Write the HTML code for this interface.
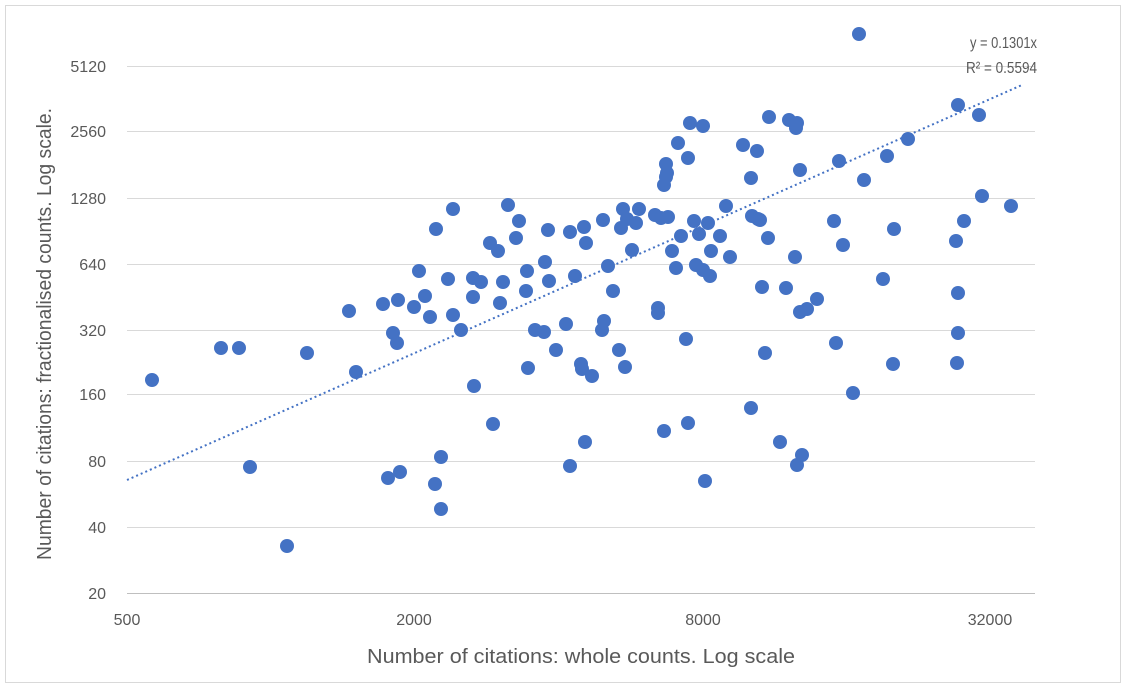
<!DOCTYPE html>
<html><head><meta charset="utf-8"><style>
body{margin:0;background:#fff;}
svg{display:block;font-family:"Liberation Sans",sans-serif;}
</style></head><body>
<svg width="1127" height="688" viewBox="0 0 1127 688">
<rect x="5.5" y="5.5" width="1115" height="677" fill="#fff" stroke="#d9d9d9"/>
<g stroke="#d9d9d9" stroke-width="1">
<line x1="127" x2="1035" y1="66.5" y2="66.5"/>
<line x1="127" x2="1035" y1="131.5" y2="131.5"/>
<line x1="127" x2="1035" y1="198.5" y2="198.5"/>
<line x1="127" x2="1035" y1="264.5" y2="264.5"/>
<line x1="127" x2="1035" y1="330.5" y2="330.5"/>
<line x1="127" x2="1035" y1="394.5" y2="394.5"/>
<line x1="127" x2="1035" y1="461.5" y2="461.5"/>
<line x1="127" x2="1035" y1="527.5" y2="527.5"/>
</g>
<line x1="127" x2="1035" y1="593.5" y2="593.5" stroke="#bfbfbf"/>
<g fill="#595959" font-size="16" text-anchor="end">
<text x="106" y="72">5120</text><text x="106" y="137">2560</text><text x="106" y="204">1280</text>
<text x="106" y="270">640</text><text x="106" y="336">320</text><text x="106" y="400">160</text>
<text x="106" y="467">80</text><text x="106" y="533">40</text><text x="106" y="599">20</text>
</g>
<g fill="#595959" font-size="16" text-anchor="middle">
<text x="127" y="625">500</text><text x="414" y="625">2000</text><text x="703" y="625">8000</text><text x="990" y="625">32000</text>
<text x="581" y="663" font-size="20" textLength="428" lengthAdjust="spacingAndGlyphs">Number of citations: whole counts. Log scale</text>
<text transform="translate(51,334) rotate(-90)" font-size="20" textLength="452" lengthAdjust="spacingAndGlyphs">Number of citations: fractionalised counts. Log scale.</text>
</g>
<g fill="#4472C4">
<circle cx="152" cy="380" r="7"/><circle cx="221" cy="348" r="7"/><circle cx="239" cy="348" r="7"/><circle cx="250" cy="467" r="7"/><circle cx="287" cy="546" r="7"/><circle cx="307" cy="353" r="7"/><circle cx="349" cy="311" r="7"/><circle cx="356" cy="372" r="7"/><circle cx="383" cy="304" r="7"/><circle cx="393" cy="333" r="7"/><circle cx="397" cy="343" r="7"/><circle cx="398" cy="300" r="7"/><circle cx="388" cy="478" r="7"/><circle cx="400" cy="472" r="7"/><circle cx="414" cy="307" r="7"/><circle cx="419" cy="271" r="7"/><circle cx="425" cy="296" r="7"/><circle cx="430" cy="317" r="7"/><circle cx="436" cy="229" r="7"/><circle cx="435" cy="484" r="7"/><circle cx="441" cy="457" r="7"/><circle cx="441" cy="509" r="7"/><circle cx="448" cy="279" r="7"/><circle cx="453" cy="209" r="7"/><circle cx="453" cy="315" r="7"/><circle cx="461" cy="330" r="7"/><circle cx="473" cy="297" r="7"/><circle cx="473" cy="278" r="7"/><circle cx="474" cy="386" r="7"/><circle cx="481" cy="282" r="7"/><circle cx="490" cy="243" r="7"/><circle cx="493" cy="424" r="7"/><circle cx="498" cy="251" r="7"/><circle cx="500" cy="303" r="7"/><circle cx="503" cy="282" r="7"/><circle cx="508" cy="205" r="7"/><circle cx="516" cy="238" r="7"/><circle cx="519" cy="221" r="7"/><circle cx="526" cy="291" r="7"/><circle cx="527" cy="271" r="7"/><circle cx="528" cy="368" r="7"/><circle cx="535" cy="330" r="7"/><circle cx="544" cy="332" r="7"/><circle cx="545" cy="262" r="7"/><circle cx="548" cy="230" r="7"/><circle cx="549" cy="281" r="7"/><circle cx="556" cy="350" r="7"/><circle cx="566" cy="324" r="7"/><circle cx="570" cy="466" r="7"/><circle cx="570" cy="232" r="7"/><circle cx="575" cy="276" r="7"/><circle cx="581" cy="364" r="7"/><circle cx="582" cy="369" r="7"/><circle cx="584" cy="227" r="7"/><circle cx="585" cy="442" r="7"/><circle cx="586" cy="243" r="7"/><circle cx="592" cy="376" r="7"/><circle cx="602" cy="330" r="7"/><circle cx="603" cy="220" r="7"/><circle cx="604" cy="321" r="7"/><circle cx="608" cy="266" r="7"/><circle cx="613" cy="291" r="7"/><circle cx="619" cy="350" r="7"/><circle cx="621" cy="228" r="7"/><circle cx="623" cy="209" r="7"/><circle cx="625" cy="367" r="7"/><circle cx="627" cy="219" r="7"/><circle cx="632" cy="250" r="7"/><circle cx="636" cy="223" r="7"/><circle cx="639" cy="209" r="7"/><circle cx="655" cy="215" r="7"/><circle cx="658" cy="313" r="7"/><circle cx="658" cy="308" r="7"/><circle cx="661" cy="218" r="7"/><circle cx="664" cy="185" r="7"/><circle cx="666" cy="177" r="7"/><circle cx="667" cy="173" r="7"/><circle cx="666" cy="164" r="7"/><circle cx="668" cy="217" r="7"/><circle cx="664" cy="431" r="7"/><circle cx="672" cy="251" r="7"/><circle cx="676" cy="268" r="7"/><circle cx="678" cy="143" r="7"/><circle cx="681" cy="236" r="7"/><circle cx="686" cy="339" r="7"/><circle cx="688" cy="423" r="7"/><circle cx="688" cy="158" r="7"/><circle cx="690" cy="123" r="7"/><circle cx="694" cy="221" r="7"/><circle cx="696" cy="265" r="7"/><circle cx="699" cy="234" r="7"/><circle cx="703" cy="126" r="7"/><circle cx="703" cy="270" r="7"/><circle cx="705" cy="481" r="7"/><circle cx="708" cy="223" r="7"/><circle cx="710" cy="276" r="7"/><circle cx="711" cy="251" r="7"/><circle cx="720" cy="236" r="7"/><circle cx="726" cy="206" r="7"/><circle cx="730" cy="257" r="7"/><circle cx="743" cy="145" r="7"/><circle cx="751" cy="408" r="7"/><circle cx="751" cy="178" r="7"/><circle cx="752" cy="216" r="7"/><circle cx="757" cy="151" r="7"/><circle cx="758" cy="219" r="7"/><circle cx="760" cy="220" r="7"/><circle cx="762" cy="287" r="7"/><circle cx="765" cy="353" r="7"/><circle cx="768" cy="238" r="7"/><circle cx="769" cy="117" r="7"/><circle cx="780" cy="442" r="7"/><circle cx="786" cy="288" r="7"/><circle cx="789" cy="120" r="7"/><circle cx="796" cy="128" r="7"/><circle cx="797" cy="123" r="7"/><circle cx="797" cy="465" r="7"/><circle cx="795" cy="257" r="7"/><circle cx="800" cy="170" r="7"/><circle cx="802" cy="455" r="7"/><circle cx="800" cy="312" r="7"/><circle cx="807" cy="309" r="7"/><circle cx="817" cy="299" r="7"/><circle cx="834" cy="221" r="7"/><circle cx="836" cy="343" r="7"/><circle cx="839" cy="161" r="7"/><circle cx="843" cy="245" r="7"/><circle cx="853" cy="393" r="7"/><circle cx="859" cy="34" r="7"/><circle cx="864" cy="180" r="7"/><circle cx="883" cy="279" r="7"/><circle cx="887" cy="156" r="7"/><circle cx="893" cy="364" r="7"/><circle cx="894" cy="229" r="7"/><circle cx="908" cy="139" r="7"/><circle cx="956" cy="241" r="7"/><circle cx="958" cy="293" r="7"/><circle cx="957" cy="363" r="7"/><circle cx="958" cy="333" r="7"/><circle cx="958" cy="105" r="7"/><circle cx="964" cy="221" r="7"/><circle cx="979" cy="115" r="7"/><circle cx="982" cy="196" r="7"/><circle cx="1011" cy="206" r="7"/>
</g>
<line x1="127" y1="480" x2="1022" y2="85" stroke="#4472C4" stroke-width="2" stroke-dasharray="2 3"/>
<g fill="#595959" font-size="16" text-anchor="end">
<text x="1037" y="48" textLength="67" lengthAdjust="spacingAndGlyphs">y = 0.1301x</text>
<text x="1037" y="73" textLength="71" lengthAdjust="spacingAndGlyphs">R² = 0.5594</text>
</g>
</svg>
</body></html>
